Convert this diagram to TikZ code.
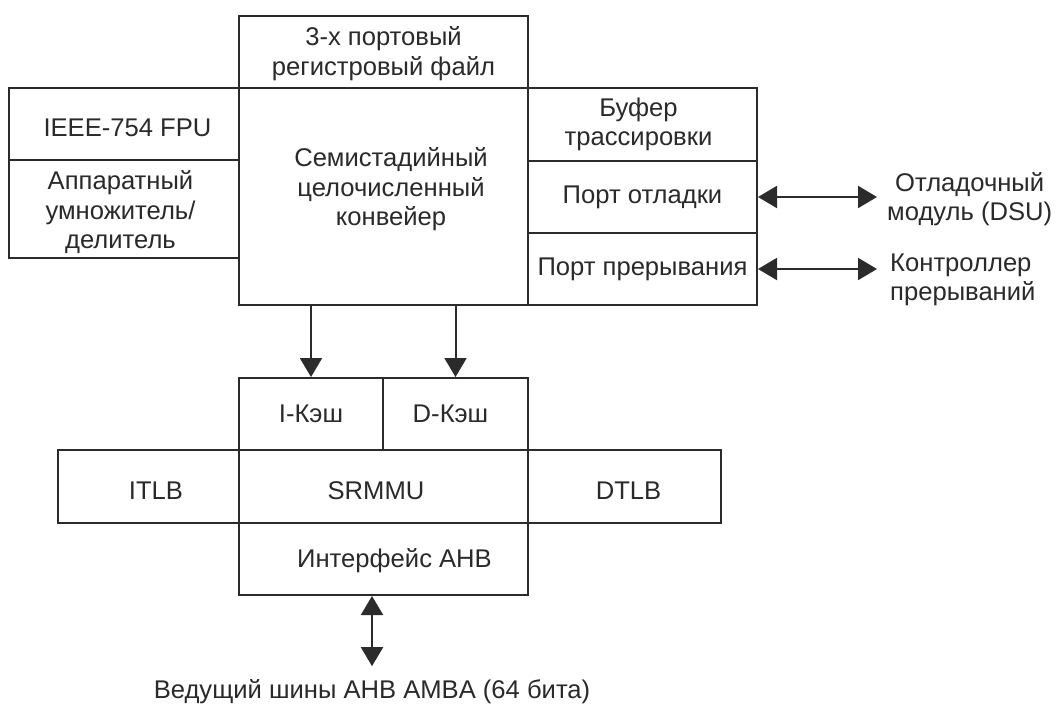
\documentclass[tikz,border=0pt]{standalone}
\usepackage{fontspec}
\setmainfont{Liberation Sans}
\usetikzlibrary{arrows.meta}
\definecolor{ln}{HTML}{2B2B2B}
\definecolor{tx}{HTML}{2A2A2A}
\begin{document}
\begin{tikzpicture}[x=1pt,y=-1pt,
  blk/.style={draw=ln, line width=2pt, inner sep=0pt, rectangle},
  txt/.style={text=tx, font=\fontsize{25.6}{29.5}\selectfont, align=center, inner sep=0pt},
  arr/.style={draw=ln, line width=2pt, -{Triangle[length=19pt,width=22pt]}},
  darr/.style={draw=ln, line width=2pt, {Triangle[length=19pt,width=22pt]}-{Triangle[length=19pt,width=22pt]}}]
\fill[white] (0,0) rectangle (1056,704);
\useasboundingbox (0,0) rectangle (1056,704);

% boxes
\node[blk, minimum width=289pt, minimum height=72pt]  (regf)   at (383.5,52)   {};
\node[blk, minimum width=289pt, minimum height=217pt] (core)   at (383.5,196.5) {};
\node[blk, minimum width=230pt, minimum height=72pt]  (fpu)    at (124,124)    {};
\node[blk, minimum width=230pt, minimum height=98pt]  (mul)    at (124,209)    {};
\node[blk, minimum width=229pt, minimum height=73pt]  (trace)  at (642.5,124.5) {};
\node[blk, minimum width=229pt, minimum height=72pt]  (dbg)    at (642.5,197)  {};
\node[blk, minimum width=229pt, minimum height=72pt]  (irq)    at (642.5,269)  {};
\node[blk, minimum width=144pt, minimum height=72pt]  (icache) at (311,414)    {};
\node[blk, minimum width=145pt, minimum height=72pt]  (dcache) at (455.5,414)  {};
\node[blk, minimum width=181pt, minimum height=73pt]  (itlb)   at (148.5,486.5) {};
\node[blk, minimum width=289pt, minimum height=73pt]  (srmmu)  at (383.5,486.5) {};
\node[blk, minimum width=193pt, minimum height=73pt]  (dtlb)   at (624.5,486.5) {};
\node[blk, minimum width=289pt, minimum height=72pt]  (ahb)    at (383.5,559)  {};

% texts in boxes
\node[txt] (regf-t)   at ([yshift=-1.5pt]regf.center) {3-х портовый\\регистровый файл};
\node[txt] (core-t)   at ([xshift=7.5pt,yshift=7pt]core.center) {Семистадийный\\целочисленный\\конвейер};
\node[txt] (fpu-t)    at ([xshift=3.5pt,yshift=-4pt]fpu.center) {IEEE-754 FPU};
\node[txt] (mul-t)    at ([xshift=-3.5pt,yshift=-3.5pt]mul.center) {Аппаратный\\умножитель/\\делитель};
\node[txt] (trace-t)  at ([xshift=-4pt]trace.center) {Буфер\\трассировки};
\node[txt] (dbg-t)    at (dbg.center) {Порт отладки};
\node[txt] (irq-t)    at (irq.center) {Порт прерывания};
\node[txt] (icache-t) at (icache.center) {I-Кэш};
\node[txt] (dcache-t) at ([xshift=-5pt]dcache.center) {D-Кэш};
\node[txt] (itlb-t)   at ([xshift=7.5pt,yshift=-4.5pt]itlb.center) {ITLB};
\node[txt] (srmmu-t)  at ([xshift=-7.5pt,yshift=-4.5pt]srmmu.center) {SRMMU};
\node[txt] (dtlb-t)   at ([xshift=4pt,yshift=-4.5pt]dtlb.center) {DTLB};
\node[txt] (ahb-t)    at ([xshift=11pt,yshift=-1.5pt]ahb.center) {Интерфейс AHB};

% outside labels
\node[txt, anchor=west] (dsu) at (887,199) {Отладочный\\модуль (DSU)};
\node[txt, anchor=west, align=left] (intc) at (890,280) {Контроллер\\прерываний};
\node[txt] (bus) at (372,691.5) {Ведущий шины AHB AMBA (64 бита)};

\coordinate (rend) at (877,0);
\coordinate (busend) at ([yshift=13pt]bus.north);

% connectors
\draw[arr] (core.south -| icache.north) -- (icache.north);
\draw[arr] (core.south -| dcache.north) -- (dcache.north);
\draw[darr] (dbg.east) -- (dbg.east -| rend);
\draw[darr] (irq.east) -- (irq.east -| rend);
\draw[darr] (ahb.south -| bus.north) -- (busend);
\end{tikzpicture}
\end{document}
